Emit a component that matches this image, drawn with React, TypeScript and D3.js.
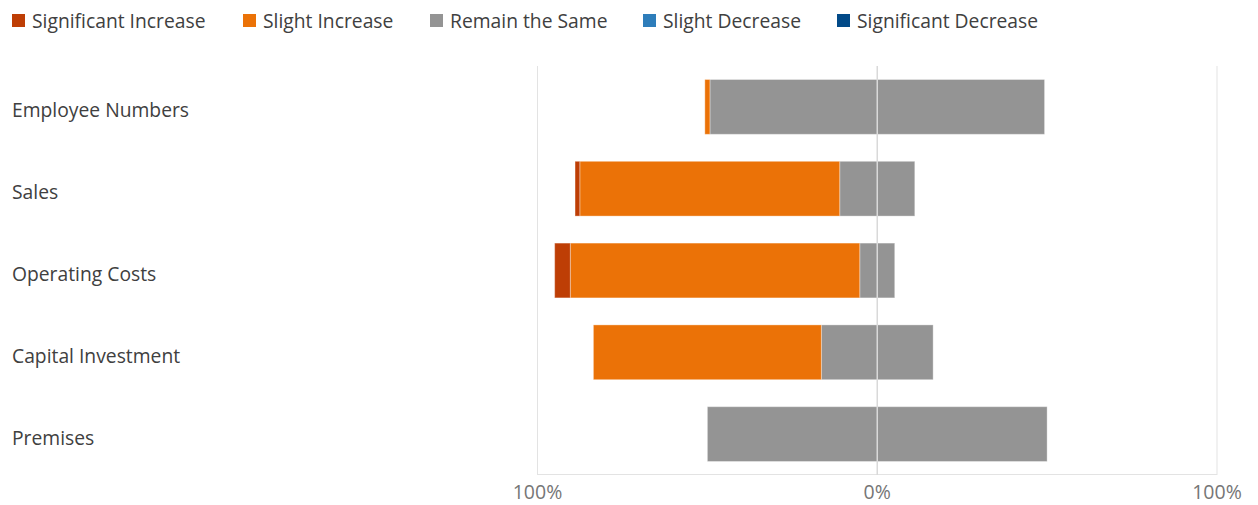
import React from "react";
import * as d3 from "d3";

const categories = ["Employee Numbers", "Sales", "Operating Costs", "Capital Investment", "Premises"];
const seriesNames = ["Significant Increase", "Slight Increase", "Remain the Same", "Slight Decrease", "Significant Decrease"];
const seriesColors = ["#BE3E05", "#EB7207", "#949494", "#2E7DBA", "#024A88"];
const significantIncrease = [0, 1.4, 4.6, 0, 0];
const slightIncrease = [1.5, 76.5, 85.2, 67.1, 0];
const remainSame = [98.5, 22.1, 10.3, 32.9, 100];
const slightDecrease = [0, 0, 0, 0, 0];
const significantDecrease = [0, 0, 0, 0, 0];
const tickValues = [-100, 0, 100];
const tickLabels = ["100%", "0%", "100%"];

const W = 1258;
const H = 505;
const FONT = "'Segoe UI', 'Open Sans', 'Noto Sans', sans-serif";

export default function App() {
  const x = d3.scaleLinear().domain([-100, 100]).range([537.5, 1217]);
  const y = d3.scaleBand<string>().domain(categories).range([66, 475]).paddingInner(0.33).paddingOuter(0.165);

  const rows = categories.map((c, i) => {
    const half = remainSame[i] / 2;
    const segs: { s: number; x0: number; x1: number }[] = [];
    let cur = -half;
    segs.push({ s: 2, x0: -half, x1: half });
    segs.push({ s: 1, x0: cur - slightIncrease[i], x1: cur });
    cur -= slightIncrease[i];
    segs.push({ s: 0, x0: cur - significantIncrease[i], x1: cur });
    let r = half;
    segs.push({ s: 3, x0: r, x1: r + slightDecrease[i] });
    r += slightDecrease[i];
    segs.push({ s: 4, x0: r, x1: r + significantDecrease[i] });
    return { c, segs: segs.filter((d) => d.x1 - d.x0 > 0) };
  });

  const legendX = [12, 243, 430, 643, 837];

  return (
    <svg width={W} height={H} style={{ position: "absolute", left: 0, top: 0, display: "block" }} fontFamily={FONT}>
      <rect width={W} height={H} fill="#fff" />
      {seriesNames.map((n, i) => (
        <g key={n}>
          <rect x={legendX[i]} y={14} width={13} height={13} fill={seriesColors[i]} />
          <text x={legendX[i] + 20} y={27.5} fontSize={19.3} fill="#404040">{n}</text>
        </g>
      ))}
      {tickValues.filter((t) => t !== 0).map((t, i) => (
        <line key={i} x1={x(t)} x2={x(t)} y1={66} y2={475} stroke="#e3e3e3" strokeWidth={1} />
      ))}
      <line x1={x(-100)} x2={x(100)} y1={474.5} y2={474.5} stroke="#e3e3e3" strokeWidth={1} />
      {rows.map((row) => (
        <g key={row.c}>
          {row.segs.map((sg, j) => (
            <rect
              key={j}
              x={x(sg.x0)}
              y={y(row.c)!}
              width={x(sg.x1) - x(sg.x0)}
              height={y.bandwidth()}
              fill={seriesColors[sg.s]}
              stroke="#ffffff"
              strokeOpacity={0.35}
              strokeWidth={1}
            />
          ))}
        </g>
      ))}
      <line x1={x(0)} x2={x(0)} y1={66} y2={475} stroke="#d9d9d9" strokeWidth={1.5} />
      {categories.map((c) => (
        <text key={c} x={12} y={y(c)! + y.bandwidth() / 2 + 3.5} dy="0.36em" fontSize={19.3} fill="#404040">{c}</text>
      ))}
      {tickValues.map((t, i) => (
        <text key={i} x={x(t)} y={499} textAnchor="middle" fontSize={19.5} fill="#767676">{tickLabels[i]}</text>
      ))}
    </svg>
  );
}
